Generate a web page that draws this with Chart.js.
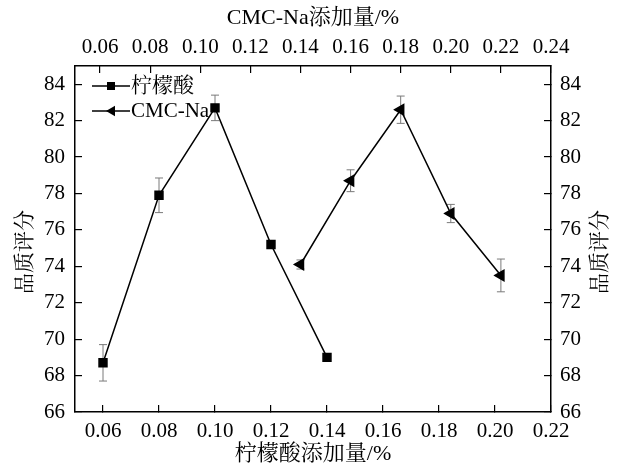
<!DOCTYPE html>
<html lang="zh">
<head>
  <meta charset="UTF-8">
  <title>品质评分</title>
  <script src="https://cdn.jsdelivr.net/npm/chart.js"></script>
  <style>
    body {
      margin: 0;
      background: #fff;
    }
    .chart-container {
      width: 617px;
      height: 467px;
    }
  </style>
</head>
<body>
  <div class="chart-container">
    <canvas id="chart1"></canvas>
  </div>

  <script>
    // 柠檬酸 (bottom axis)
    const citricX = [0.06, 0.08, 0.10, 0.12, 0.14];
    const citricY = [68.7, 77.9, 82.7, 75.2, 69.0];
    const citricErr = [1.0, 0.95, 0.7, 0.2, 0];

    // CMC-Na (top axis)
    const cmcX = [0.14, 0.16, 0.18, 0.20, 0.22];
    const cmcY = [74.1, 78.7, 82.6, 76.9, 73.5];
    const cmcErr = [0.25, 0.6, 0.75, 0.5, 0.9];

    const bottomTicks = [0.06, 0.08, 0.10, 0.12, 0.14, 0.16, 0.18, 0.20, 0.22];
    const topTicks = [0.06, 0.08, 0.10, 0.12, 0.14, 0.16, 0.18, 0.20, 0.22, 0.24];
    const yTicks = [66, 68, 70, 72, 74, 76, 78, 80, 82, 84];

    const FONT = '"Liberation Serif", "Times New Roman", "Noto Serif CJK SC", "Noto Sans CJK SC", serif';
    const errors = [citricErr, cmcErr];

    // error bars drawn under the markers
    const errorBars = {
      id: 'errorBars',
      beforeDatasetsDraw(chart) {
        const ctx = chart.ctx;
        ctx.save();
        ctx.strokeStyle = '#7a7a7a';
        ctx.lineWidth = 1;
        chart.data.datasets.forEach((ds, i) => {
          const xs = chart.scales[ds.xAxisID];
          const ys = chart.scales[ds.yAxisID];
          ds.data.forEach((p, j) => {
            const e = errors[i][j];
            if (!e) return;
            const x = xs.getPixelForValue(p.x);
            const y1 = ys.getPixelForValue(p.y - e);
            const y2 = ys.getPixelForValue(p.y + e);
            ctx.beginPath();
            ctx.moveTo(x, y1); ctx.lineTo(x, y2);
            ctx.moveTo(x - 4, y1); ctx.lineTo(x + 4, y1);
            ctx.moveTo(x - 4, y2); ctx.lineTo(x + 4, y2);
            ctx.stroke();
          });
        });
        ctx.restore();
      }
    };

    // legend inside the plot and the y titles (both read bottom to top)
    const extras = {
      id: 'extras',
      afterDraw(chart) {
        const ctx = chart.ctx;
        ctx.save();
        ctx.fillStyle = '#000';
        ctx.strokeStyle = '#000';
        ctx.font = '21px ' + FONT;
        ctx.textBaseline = 'middle';
        chart.data.datasets.forEach((ds, i) => {
          const y = 86 + i * 25;
          ctx.lineWidth = 1.5;
          ctx.beginPath();
          ctx.moveTo(92, y); ctx.lineTo(130, y);
          ctx.stroke();
          if (ds.pointStyle === 'rect') {
            ctx.fillRect(107, y - 4, 8, 8);
          } else {
            ctx.beginPath();
            ctx.moveTo(106, y);
            ctx.lineTo(115, y - 5.2);
            ctx.lineTo(115, y + 5.2);
            ctx.closePath();
            ctx.fill();
          }
          ctx.textAlign = 'left';
          ctx.fillText(ds.label, 131, y);
        });
        ctx.font = '21px ' + FONT;
        ctx.textAlign = 'center';
        [25, 600].forEach(x => {
          ctx.save();
          ctx.translate(x, 252);
          ctx.rotate(-Math.PI / 2);
          ctx.fillText('品质评分', 0, 0);
          ctx.restore();
        });
        ctx.restore();
      }
    };

    function axis(position, min, max, ticks, pad, size, title) {
      const horizontal = position === 'top' || position === 'bottom';
      return {
        type: 'linear',
        position: position,
        min: min,
        max: max,
        afterBuildTicks: s => { s.ticks = ticks.map(v => ({ value: v })); },
        afterFit: s => { if (horizontal) s.height = size; else s.width = size; },
        border: { color: '#000', width: 1.5 },
        grid: { drawOnChartArea: false, tickLength: -7, color: '#000', lineWidth: 1.2 },
        ticks: {
          color: '#000',
          padding: pad,
          maxRotation: 0,
          autoSkip: false,
          font: { family: FONT, size: 21 },
          callback: v => horizontal ? v.toFixed(2) : v
        },
        title: title ? {
          display: true,
          text: title,
          color: '#000',
          font: { family: FONT, size: 22 },
          padding: position === 'top' ? { top: 5, bottom: 0 } : { top: 0, bottom: 0 }
        } : { display: false }
      };
    }

    const ctx1 = document.getElementById('chart1').getContext('2d');
    new Chart(ctx1, {
      type: 'scatter',
      data: {
        datasets: [{
          label: '柠檬酸',
          data: citricX.map((x, i) => ({ x: x, y: citricY[i] })),
          xAxisID: 'x',
          yAxisID: 'y',
          showLine: true,
          borderColor: '#000',
          backgroundColor: '#000',
          borderWidth: 1.5,
          pointStyle: 'rect',
          pointRadius: 5.6,
          pointHoverRadius: 5.6
        },
        {
          label: 'CMC-Na',
          data: cmcX.map((x, i) => ({ x: x, y: cmcY[i] })),
          xAxisID: 'x2',
          yAxisID: 'y',
          showLine: true,
          borderColor: '#000',
          backgroundColor: '#000',
          borderWidth: 1.5,
          pointStyle: 'triangle',
          pointRotation: 270,
          pointRadius: 6,
          pointHoverRadius: 6
        }]
      },
      options: {
        responsive: true,
        maintainAspectRatio: false,
        animation: false,
        layout: { padding: 0 },
        plugins: {
          legend: { display: false },
          tooltip: { enabled: false }
        },
        scales: {
          x: axis('bottom', 0.05, 0.22, bottomTicks, 14, 55, '柠檬酸添加量/%'),
          x2: axis('top', 0.05, 0.24, topTicks, 13, 66, 'CMC-Na添加量/%'),
          y: axis('left', 66, 85, yTicks, 17, 75, null),
          y2: axis('right', 66, 85, yTicks, 16, 66, null)
        }
      },
      plugins: [errorBars, extras]
    });
  </script>
</body>
</html>
